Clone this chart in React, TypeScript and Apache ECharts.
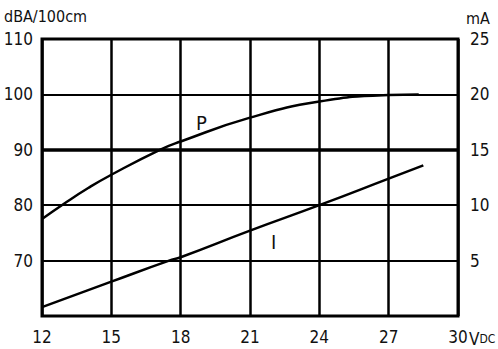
import React, { useEffect, useRef } from "react";
import * as echarts from "echarts";

const xTicks = [12, 15, 18, 21, 24, 27, 30];
const pCurve: [number, number][] = [
  [12, 77.5], [13, 80.4], [14, 83.1], [15, 85.5], [17.1, 90], [18, 91.5], [21, 95.8], [24, 98.7], [27, 99.9], [28.3, 100],
];
const iCurve: [number, number][] = [
  [12, 0.8], [15, 3.1], [17.5, 5], [18, 5.3], [21, 7.7], [24, 10], [27, 12.4], [28.5, 13.6],
];
const leftUnit = "dBA/100cm";
const rightUnit = "mA";

const tickFont = "'DejaVu Sans Condensed', sans-serif";

export default function App() {
  const ref = useRef<HTMLDivElement>(null);
  useEffect(() => {
    const chart = echarts.init(ref.current!, null, { renderer: "svg" });
    chart.setOption({
      animation: false,
      backgroundColor: "#fff",
      grid: {
        left: 42, right: 40, top: 39, bottom: 33, show: true, borderColor: "#000", borderWidth: 3,
        outerBoundsMode: "none", containLabel: false,
      },
      xAxis: {
        type: "value", min: 12, max: 30, interval: 3,
        axisLine: { show: false }, axisTick: { show: false },
        splitLine: { show: true, lineStyle: { color: "#000", width: 2.5 } },
        axisLabel: {
          color: "#111", fontFamily: tickFont, fontSize: 17, margin: 12,
          formatter: (v: number) => (xTicks.includes(v) ? String(v) : ""),
        },
      },
      yAxis: [
        {
          type: "value", min: 60, max: 110, interval: 10,
          axisLine: { show: false }, axisTick: { show: false },
          splitLine: { show: true, lineStyle: { color: "#000", width: 2 } },
          axisLabel: { color: "#111", fontFamily: tickFont, fontSize: 17, margin: 9, showMinLabel: false },
        },
        {
          type: "value", min: 0, max: 25, interval: 5, position: "right",
          axisLine: { show: false }, axisTick: { show: false }, splitLine: { show: false },
          axisLabel: { color: "#111", fontFamily: tickFont, fontSize: 17, margin: 12, showMinLabel: false },
        },
      ],
      series: [
        {
          type: "line", data: pCurve, yAxisIndex: 0, smooth: true, symbol: "none",
          lineStyle: { color: "#000", width: 2.5 },
          markLine: {
            silent: true, symbol: "none", label: { show: false },
            lineStyle: { color: "#000", width: 3.5, type: "solid" },
            data: [{ yAxis: 90 }],
          },
        },
        {
          type: "line", data: iCurve, yAxisIndex: 1, smooth: true, symbol: "none",
          lineStyle: { color: "#000", width: 2.5 },
        },
      ],
      graphic: [
        { type: "text", left: 4, top: 8, style: { text: leftUnit, fontFamily: tickFont, fontSize: 16, fill: "#111" } },
        { type: "text", left: 466, top: 10, style: { text: rightUnit, fontFamily: tickFont, fontSize: 16, fill: "#111" } },
        {
          type: "text", left: 469, top: 330,
          style: {
            text: "{v|V}{d|DC}",
            rich: {
              v: { fontFamily: tickFont, fontSize: 17, fill: "#111" },
              d: { fontFamily: tickFont, fontSize: 12, fill: "#111" },
            },
          },
        },
        { type: "text", left: 196, top: 113, style: { text: "P", fontFamily: tickFont, fontSize: 20, fill: "#111" } },
        { type: "text", left: 271, top: 232, style: { text: "I", fontFamily: tickFont, fontSize: 20, fill: "#111" } },
      ],
    });
    return () => chart.dispose();
  }, []);
  return <div ref={ref} style={{ width: 498, height: 349, position: "absolute", left: 0, top: 0 }} />;
}
